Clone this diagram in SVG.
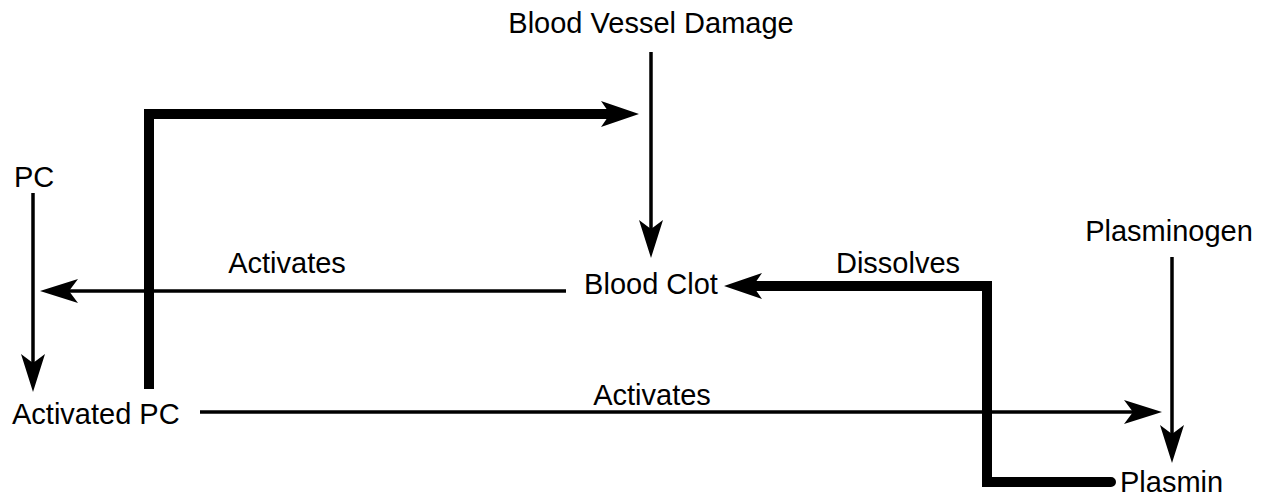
<svg xmlns="http://www.w3.org/2000/svg" width="1269" height="498" viewBox="0 0 1269 498">
<style>
text{font-family:"Liberation Sans",Arial,sans-serif;font-size:29px;fill:#000}
.thin{stroke:#000;stroke-width:3.5;fill:none}
.thick{stroke:#000;stroke-width:10;fill:none;stroke-linejoin:miter}
.head{fill:#000}
</style>
<defs>
<marker id="ah" markerUnits="userSpaceOnUse" markerWidth="40" markerHeight="26" refX="10" refY="13" orient="auto" overflow="visible">
<path d="M39,13 L1,1 L10,13 L1,25 Z" fill="#000"/>
</marker>
</defs>
<rect width="1269" height="498" fill="#fff"/>
<g id="connectors">
<line class="thin" x1="33" y1="193" x2="33" y2="363" marker-end="url(#ah)"/>
<line class="thin" x1="566" y1="291" x2="69" y2="291" marker-end="url(#ah)"/>
<line class="thin" x1="200" y1="412" x2="1133" y2="412" marker-end="url(#ah)"/>
<line class="thin" x1="1172" y1="257" x2="1172" y2="434" marker-end="url(#ah)"/>
<line class="thin" x1="651" y1="52" x2="651" y2="229" marker-end="url(#ah)"/>
<path class="thick" d="M149,389 V114 H610"/>
<path class="head" d="M639,114 L601,101 L610,114 L601,127 Z"/>
<path class="thick" d="M1111,482 H987 V286 H755" stroke-linecap="round"/>
<path class="head" d="M724,286 L762,273 L753,286 L762,299 Z"/>
<text x="287" y="273" text-anchor="middle">Activates</text>
<text x="652" y="405" text-anchor="middle">Activates</text>
<text x="898" y="273" text-anchor="middle">Dissolves</text>
</g>
<g id="node-bvd"><text x="651" y="33" text-anchor="middle">Blood Vessel Damage</text></g>
<g id="node-pc"><text x="14" y="187">PC</text></g>
<g id="node-apc"><text x="12" y="424">Activated PC</text></g>
<g id="node-clot"><text x="651" y="294" text-anchor="middle">Blood Clot</text></g>
<g id="node-plasminogen"><text x="1169" y="241" text-anchor="middle">Plasminogen</text></g>
<g id="node-plasmin"><text x="1120" y="492">Plasmin</text></g>
</svg>
